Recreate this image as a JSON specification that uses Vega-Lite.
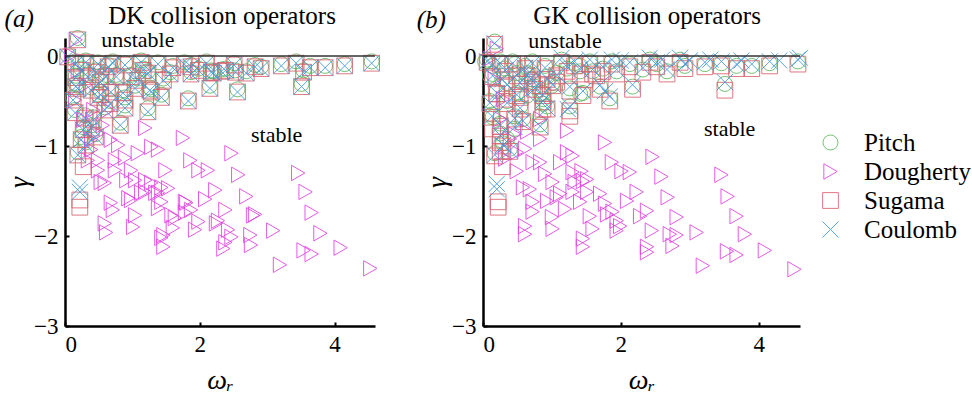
{
"$schema": "https://vega.github.io/schema/vega-lite/v6.json",
"padding": {"left": 4, "top": 3, "right": 0, "bottom": 0},
"datasets": {
"pts": [
{"panel":"a","op":"Pitch","w":0.19,"g":0.2},{"panel":"a","op":"Pitch","w":0.04,"g":0.01},{"panel":"a","op":"Pitch","w":0.16,"g":-0.06},{"panel":"a","op":"Pitch","w":0.31,"g":-0.05},{"panel":"a","op":"Pitch","w":0.49,"g":-0.07},{"panel":"a","op":"Pitch","w":0.71,"g":-0.06},{"panel":"a","op":"Pitch","w":0.89,"g":-0.08},{"panel":"a","op":"Pitch","w":1.13,"g":-0.05},{"panel":"a","op":"Pitch","w":1.38,"g":-0.07},{"panel":"a","op":"Pitch","w":1.77,"g":-0.07},{"panel":"a","op":"Pitch","w":2.1,"g":-0.06},{"panel":"a","op":"Pitch","w":2.2,"g":-0.17},{"panel":"a","op":"Pitch","w":2.32,"g":-0.15},{"panel":"a","op":"Pitch","w":2.51,"g":-0.08},{"panel":"a","op":"Pitch","w":2.53,"g":-0.16},{"panel":"a","op":"Pitch","w":2.69,"g":-0.17},{"panel":"a","op":"Pitch","w":2.82,"g":-0.1},{"panel":"a","op":"Pitch","w":2.91,"g":-0.12},{"panel":"a","op":"Pitch","w":3.21,"g":-0.09},{"panel":"a","op":"Pitch","w":3.43,"g":-0.06},{"panel":"a","op":"Pitch","w":3.54,"g":-0.16},{"panel":"a","op":"Pitch","w":3.64,"g":-0.11},{"panel":"a","op":"Pitch","w":3.86,"g":-0.11},{"panel":"a","op":"Pitch","w":4.15,"g":-0.09},{"panel":"a","op":"Pitch","w":4.55,"g":-0.06},{"panel":"a","op":"Pitch","w":2.15,"g":-0.33},{"panel":"a","op":"Pitch","w":2.56,"g":-0.37},{"panel":"a","op":"Pitch","w":3.51,"g":-0.31},{"panel":"a","op":"Pitch","w":1.83,"g":-0.47},{"panel":"a","op":"Pitch","w":1.43,"g":-0.43},{"panel":"a","op":"Pitch","w":1.26,"g":-0.35},{"panel":"a","op":"Pitch","w":0.89,"g":-0.46},{"panel":"a","op":"Pitch","w":0.89,"g":-0.55},{"panel":"a","op":"Pitch","w":0.86,"g":-0.38},{"panel":"a","op":"Pitch","w":0.49,"g":-0.43},{"panel":"a","op":"Pitch","w":0.59,"g":-0.57},{"panel":"a","op":"Pitch","w":0.16,"g":-0.31},{"panel":"a","op":"Pitch","w":0.16,"g":-0.22},{"panel":"a","op":"Pitch","w":0.34,"g":-0.21},{"panel":"a","op":"Pitch","w":0.61,"g":-0.21},{"panel":"a","op":"Pitch","w":0.76,"g":-0.21},{"panel":"a","op":"Pitch","w":0.98,"g":-0.21},{"panel":"a","op":"Pitch","w":1.23,"g":-0.17},{"panel":"a","op":"Pitch","w":1.56,"g":-0.18},{"panel":"a","op":"Pitch","w":1.87,"g":-0.18},{"panel":"a","op":"Pitch","w":2.17,"g":-0.16},{"panel":"a","op":"Pitch","w":2.38,"g":-0.14},{"panel":"a","op":"Pitch","w":1.87,"g":-0.1},{"panel":"a","op":"Pitch","w":0.19,"g":-0.33},{"panel":"a","op":"Pitch","w":0.39,"g":-0.35},{"panel":"a","op":"Pitch","w":0.53,"g":-0.4},{"panel":"a","op":"Pitch","w":0.68,"g":-0.37},{"panel":"a","op":"Pitch","w":1.04,"g":-0.33},{"panel":"a","op":"Pitch","w":1.28,"g":-0.37},{"panel":"a","op":"Pitch","w":1.23,"g":-0.58},{"panel":"a","op":"Pitch","w":0.15,"g":-0.6},{"panel":"a","op":"Pitch","w":0.3,"g":-0.66},{"panel":"a","op":"Pitch","w":0.42,"g":-0.68},{"panel":"a","op":"Pitch","w":0.39,"g":-0.77},{"panel":"a","op":"Pitch","w":0.27,"g":-0.79},{"panel":"a","op":"Pitch","w":0.45,"g":-0.87},{"panel":"a","op":"Pitch","w":0.24,"g":-0.9},{"panel":"a","op":"Pitch","w":0.31,"g":-0.96},{"panel":"a","op":"Pitch","w":0.19,"g":-1.07},{"panel":"a","op":"Pitch","w":0.82,"g":-0.74},{"panel":"a","op":"Pitch","w":0.64,"g":-0.1},{"panel":"a","op":"Pitch","w":1.6,"g":-0.11},{"panel":"a","op":"Pitch","w":1.98,"g":-0.14},{"panel":"a","op":"Pitch","w":1.16,"g":-0.14},{"panel":"a","op":"Pitch","w":0.46,"g":-0.16},{"panel":"a","op":"Pitch","w":0.24,"g":-0.14},{"panel":"a","op":"Pitch","w":1.46,"g":-0.25},{"panel":"a","op":"Pitch","w":1.08,"g":-0.25},{"panel":"a","op":"Pitch","w":0.52,"g":-0.27},{"panel":"a","op":"Pitch","w":0.67,"g":-0.5},{"panel":"a","op":"Pitch","w":0.12,"g":-0.46},
{"panel":"a","op":"Dougherty","w":0.16,"g":0.18},{"panel":"a","op":"Dougherty","w":0.09,"g":0.01},{"panel":"a","op":"Dougherty","w":0.15,"g":-0.49},{"panel":"a","op":"Dougherty","w":0.64,"g":-0.6},{"panel":"a","op":"Dougherty","w":0.49,"g":-0.86},{"panel":"a","op":"Dougherty","w":0.68,"g":-0.93},{"panel":"a","op":"Dougherty","w":0.39,"g":-1.04},{"panel":"a","op":"Dougherty","w":1.19,"g":-0.8},{"panel":"a","op":"Dougherty","w":1.75,"g":-0.91},{"panel":"a","op":"Dougherty","w":1.28,"g":-1.01},{"panel":"a","op":"Dougherty","w":1.38,"g":-1.04},{"panel":"a","op":"Dougherty","w":2.47,"g":-1.08},{"panel":"a","op":"Dougherty","w":1.98,"g":-1.27},{"panel":"a","op":"Dougherty","w":3.46,"g":-1.3},{"panel":"a","op":"Dougherty","w":3.57,"g":-1.51},{"panel":"a","op":"Dougherty","w":3.66,"g":-1.74},{"panel":"a","op":"Dougherty","w":3.79,"g":-1.97},{"panel":"a","op":"Dougherty","w":4.09,"g":-2.13},{"panel":"a","op":"Dougherty","w":4.53,"g":-2.36},{"panel":"a","op":"Dougherty","w":3.19,"g":-2.32},{"panel":"a","op":"Dougherty","w":3.54,"g":-2.16},{"panel":"a","op":"Dougherty","w":3.66,"g":-2.2},{"panel":"a","op":"Dougherty","w":3.09,"g":-1.94},{"panel":"a","op":"Dougherty","w":2.82,"g":-1.76},{"panel":"a","op":"Dougherty","w":2.69,"g":-1.56},{"panel":"a","op":"Dougherty","w":1.86,"g":-1.16},{"panel":"a","op":"Dougherty","w":2.12,"g":-1.27},{"panel":"a","op":"Dougherty","w":2.57,"g":-1.32},{"panel":"a","op":"Dougherty","w":2.23,"g":-1.49},{"panel":"a","op":"Dougherty","w":2.08,"g":-1.59},{"panel":"a","op":"Dougherty","w":2.38,"g":-1.71},{"panel":"a","op":"Dougherty","w":2.27,"g":-1.83},{"panel":"a","op":"Dougherty","w":1.98,"g":-1.84},{"panel":"a","op":"Dougherty","w":1.93,"g":-1.93},{"panel":"a","op":"Dougherty","w":2.42,"g":-1.93},{"panel":"a","op":"Dougherty","w":2.38,"g":-2.07},{"panel":"a","op":"Dougherty","w":2.35,"g":-2.14},{"panel":"a","op":"Dougherty","w":2.75,"g":-1.99},{"panel":"a","op":"Dougherty","w":2.76,"g":-2.1},{"panel":"a","op":"Dougherty","w":1.46,"g":-1.99},{"panel":"a","op":"Dougherty","w":1.46,"g":-2.12},{"panel":"a","op":"Dougherty","w":1.6,"g":-1.91},{"panel":"a","op":"Dougherty","w":1.78,"g":-1.74},{"panel":"a","op":"Dougherty","w":1.78,"g":-1.62},{"panel":"a","op":"Dougherty","w":1.58,"g":-1.77},{"panel":"a","op":"Dougherty","w":1.43,"g":-1.62},{"panel":"a","op":"Dougherty","w":1.53,"g":-1.47},{"panel":"a","op":"Dougherty","w":1.38,"g":-1.52},{"panel":"a","op":"Dougherty","w":1.19,"g":-1.51},{"panel":"a","op":"Dougherty","w":0.98,"g":-1.6},{"panel":"a","op":"Dougherty","w":1.04,"g":-1.77},{"panel":"a","op":"Dougherty","w":1.01,"g":-1.9},{"panel":"a","op":"Dougherty","w":0.59,"g":-1.86},{"panel":"a","op":"Dougherty","w":0.61,"g":-1.96},{"panel":"a","op":"Dougherty","w":0.71,"g":-1.71},{"panel":"a","op":"Dougherty","w":0.91,"g":-1.38},{"panel":"a","op":"Dougherty","w":0.98,"g":-1.27},{"panel":"a","op":"Dougherty","w":0.59,"g":-1.41},{"panel":"a","op":"Dougherty","w":0.49,"g":-1.27},{"panel":"a","op":"Dougherty","w":0.49,"g":-1.16},{"panel":"a","op":"Dougherty","w":0.74,"g":-1.16},{"panel":"a","op":"Dougherty","w":1.08,"g":-1.08},{"panel":"a","op":"Dougherty","w":1.49,"g":-1.27},{"panel":"a","op":"Dougherty","w":1.19,"g":-1.38},{"panel":"a","op":"Dougherty","w":1.28,"g":-1.41},{"panel":"a","op":"Dougherty","w":1.87,"g":-1.71},{"panel":"a","op":"Dougherty","w":0.89,"g":-1.13},{"panel":"a","op":"Dougherty","w":0.74,"g":-1.27},{"panel":"a","op":"Dougherty","w":0.53,"g":-1.4},{"panel":"a","op":"Dougherty","w":1.04,"g":-1.38},{"panel":"a","op":"Dougherty","w":1.13,"g":-1.52},{"panel":"a","op":"Dougherty","w":1.43,"g":-1.46},{"panel":"a","op":"Dougherty","w":1.34,"g":-1.52},{"panel":"a","op":"Dougherty","w":0.94,"g":-1.58},{"panel":"a","op":"Dougherty","w":0.68,"g":-1.63},{"panel":"a","op":"Dougherty","w":1.38,"g":-1.69},{"panel":"a","op":"Dougherty","w":1.63,"g":-1.8},{"panel":"a","op":"Dougherty","w":1.8,"g":-1.63},{"panel":"a","op":"Dougherty","w":2.24,"g":-1.86},{"panel":"a","op":"Dougherty","w":1.43,"g":-2.02},{"panel":"a","op":"Dougherty","w":2.47,"g":-2.01},{"panel":"a","op":"Dougherty","w":2.79,"g":-1.77},{"panel":"a","op":"Dougherty","w":0.34,"g":-1.16},{"panel":"a","op":"Dougherty","w":0.39,"g":-0.93},{"panel":"a","op":"Dougherty","w":0.27,"g":-0.71},{"panel":"a","op":"Dougherty","w":0.31,"g":-0.32},{"panel":"a","op":"Dougherty","w":0.19,"g":-0.16},{"panel":"a","op":"Dougherty","w":0.42,"g":-0.6},{"panel":"a","op":"Dougherty","w":0.56,"g":-0.77},{"panel":"a","op":"Dougherty","w":0.79,"g":-0.99},
{"panel":"a","op":"Sugama","w":0.19,"g":0.18},{"panel":"a","op":"Sugama","w":0.04,"g":-0.01},{"panel":"a","op":"Sugama","w":0.16,"g":-0.08},{"panel":"a","op":"Sugama","w":0.31,"g":-0.07},{"panel":"a","op":"Sugama","w":0.49,"g":-0.09},{"panel":"a","op":"Sugama","w":0.71,"g":-0.08},{"panel":"a","op":"Sugama","w":0.89,"g":-0.1},{"panel":"a","op":"Sugama","w":1.13,"g":-0.07},{"panel":"a","op":"Sugama","w":1.38,"g":-0.09},{"panel":"a","op":"Sugama","w":1.77,"g":-0.09},{"panel":"a","op":"Sugama","w":2.1,"g":-0.08},{"panel":"a","op":"Sugama","w":2.2,"g":-0.19},{"panel":"a","op":"Sugama","w":2.32,"g":-0.17},{"panel":"a","op":"Sugama","w":2.51,"g":-0.1},{"panel":"a","op":"Sugama","w":2.53,"g":-0.18},{"panel":"a","op":"Sugama","w":2.69,"g":-0.19},{"panel":"a","op":"Sugama","w":2.82,"g":-0.12},{"panel":"a","op":"Sugama","w":2.91,"g":-0.14},{"panel":"a","op":"Sugama","w":3.21,"g":-0.11},{"panel":"a","op":"Sugama","w":3.43,"g":-0.08},{"panel":"a","op":"Sugama","w":3.54,"g":-0.18},{"panel":"a","op":"Sugama","w":3.64,"g":-0.13},{"panel":"a","op":"Sugama","w":3.86,"g":-0.13},{"panel":"a","op":"Sugama","w":4.15,"g":-0.11},{"panel":"a","op":"Sugama","w":4.55,"g":-0.08},{"panel":"a","op":"Sugama","w":2.15,"g":-0.36},{"panel":"a","op":"Sugama","w":2.56,"g":-0.4},{"panel":"a","op":"Sugama","w":3.51,"g":-0.34},{"panel":"a","op":"Sugama","w":1.83,"g":-0.5},{"panel":"a","op":"Sugama","w":1.43,"g":-0.46},{"panel":"a","op":"Sugama","w":1.26,"g":-0.38},{"panel":"a","op":"Sugama","w":0.89,"g":-0.49},{"panel":"a","op":"Sugama","w":0.89,"g":-0.58},{"panel":"a","op":"Sugama","w":0.86,"g":-0.41},{"panel":"a","op":"Sugama","w":0.49,"g":-0.46},{"panel":"a","op":"Sugama","w":0.59,"g":-0.6},{"panel":"a","op":"Sugama","w":0.16,"g":-0.34},{"panel":"a","op":"Sugama","w":0.16,"g":-0.24},{"panel":"a","op":"Sugama","w":0.34,"g":-0.23},{"panel":"a","op":"Sugama","w":0.61,"g":-0.23},{"panel":"a","op":"Sugama","w":0.76,"g":-0.23},{"panel":"a","op":"Sugama","w":0.98,"g":-0.23},{"panel":"a","op":"Sugama","w":1.23,"g":-0.19},{"panel":"a","op":"Sugama","w":1.56,"g":-0.2},{"panel":"a","op":"Sugama","w":1.87,"g":-0.2},{"panel":"a","op":"Sugama","w":2.17,"g":-0.18},{"panel":"a","op":"Sugama","w":2.38,"g":-0.16},{"panel":"a","op":"Sugama","w":1.87,"g":-0.12},{"panel":"a","op":"Sugama","w":0.19,"g":-0.36},{"panel":"a","op":"Sugama","w":0.39,"g":-0.38},{"panel":"a","op":"Sugama","w":0.53,"g":-0.43},{"panel":"a","op":"Sugama","w":0.68,"g":-0.4},{"panel":"a","op":"Sugama","w":1.04,"g":-0.36},{"panel":"a","op":"Sugama","w":1.28,"g":-0.4},{"panel":"a","op":"Sugama","w":1.23,"g":-0.62},{"panel":"a","op":"Sugama","w":0.15,"g":-0.63},{"panel":"a","op":"Sugama","w":0.3,"g":-0.69},{"panel":"a","op":"Sugama","w":0.42,"g":-0.71},{"panel":"a","op":"Sugama","w":0.39,"g":-0.8},{"panel":"a","op":"Sugama","w":0.27,"g":-0.82},{"panel":"a","op":"Sugama","w":0.45,"g":-0.9},{"panel":"a","op":"Sugama","w":0.24,"g":-0.93},{"panel":"a","op":"Sugama","w":0.31,"g":-0.99},{"panel":"a","op":"Sugama","w":0.19,"g":-1.1},{"panel":"a","op":"Sugama","w":0.82,"g":-0.77},{"panel":"a","op":"Sugama","w":0.64,"g":-0.12},{"panel":"a","op":"Sugama","w":1.6,"g":-0.13},{"panel":"a","op":"Sugama","w":1.98,"g":-0.16},{"panel":"a","op":"Sugama","w":1.16,"g":-0.16},{"panel":"a","op":"Sugama","w":0.46,"g":-0.18},{"panel":"a","op":"Sugama","w":0.24,"g":-0.16},{"panel":"a","op":"Sugama","w":1.46,"g":-0.27},{"panel":"a","op":"Sugama","w":1.08,"g":-0.27},{"panel":"a","op":"Sugama","w":0.52,"g":-0.29},{"panel":"a","op":"Sugama","w":0.67,"g":-0.53},{"panel":"a","op":"Sugama","w":0.12,"g":-0.49},{"panel":"a","op":"Sugama","w":0.27,"g":-1.23},{"panel":"a","op":"Sugama","w":0.22,"g":-1.6},{"panel":"a","op":"Sugama","w":0.22,"g":-1.68},
{"panel":"a","op":"Coulomb","w":0.19,"g":0.18},{"panel":"a","op":"Coulomb","w":0.04,"g":-0.01},{"panel":"a","op":"Coulomb","w":0.16,"g":-0.08},{"panel":"a","op":"Coulomb","w":0.31,"g":-0.07},{"panel":"a","op":"Coulomb","w":0.49,"g":-0.09},{"panel":"a","op":"Coulomb","w":0.71,"g":-0.08},{"panel":"a","op":"Coulomb","w":0.89,"g":-0.1},{"panel":"a","op":"Coulomb","w":1.13,"g":-0.07},{"panel":"a","op":"Coulomb","w":1.38,"g":-0.09},{"panel":"a","op":"Coulomb","w":1.77,"g":-0.09},{"panel":"a","op":"Coulomb","w":2.1,"g":-0.08},{"panel":"a","op":"Coulomb","w":2.2,"g":-0.19},{"panel":"a","op":"Coulomb","w":2.32,"g":-0.17},{"panel":"a","op":"Coulomb","w":2.51,"g":-0.1},{"panel":"a","op":"Coulomb","w":2.53,"g":-0.18},{"panel":"a","op":"Coulomb","w":2.69,"g":-0.19},{"panel":"a","op":"Coulomb","w":2.82,"g":-0.12},{"panel":"a","op":"Coulomb","w":2.91,"g":-0.14},{"panel":"a","op":"Coulomb","w":3.21,"g":-0.11},{"panel":"a","op":"Coulomb","w":3.43,"g":-0.08},{"panel":"a","op":"Coulomb","w":3.54,"g":-0.18},{"panel":"a","op":"Coulomb","w":3.64,"g":-0.13},{"panel":"a","op":"Coulomb","w":3.86,"g":-0.13},{"panel":"a","op":"Coulomb","w":4.15,"g":-0.11},{"panel":"a","op":"Coulomb","w":4.55,"g":-0.08},{"panel":"a","op":"Coulomb","w":2.15,"g":-0.36},{"panel":"a","op":"Coulomb","w":2.56,"g":-0.4},{"panel":"a","op":"Coulomb","w":3.51,"g":-0.34},{"panel":"a","op":"Coulomb","w":1.83,"g":-0.5},{"panel":"a","op":"Coulomb","w":1.43,"g":-0.46},{"panel":"a","op":"Coulomb","w":1.26,"g":-0.38},{"panel":"a","op":"Coulomb","w":0.89,"g":-0.49},{"panel":"a","op":"Coulomb","w":0.89,"g":-0.58},{"panel":"a","op":"Coulomb","w":0.86,"g":-0.41},{"panel":"a","op":"Coulomb","w":0.49,"g":-0.46},{"panel":"a","op":"Coulomb","w":0.59,"g":-0.6},{"panel":"a","op":"Coulomb","w":0.16,"g":-0.34},{"panel":"a","op":"Coulomb","w":0.16,"g":-0.24},{"panel":"a","op":"Coulomb","w":0.34,"g":-0.23},{"panel":"a","op":"Coulomb","w":0.61,"g":-0.23},{"panel":"a","op":"Coulomb","w":0.76,"g":-0.23},{"panel":"a","op":"Coulomb","w":0.98,"g":-0.23},{"panel":"a","op":"Coulomb","w":1.23,"g":-0.19},{"panel":"a","op":"Coulomb","w":1.56,"g":-0.2},{"panel":"a","op":"Coulomb","w":1.87,"g":-0.2},{"panel":"a","op":"Coulomb","w":2.17,"g":-0.18},{"panel":"a","op":"Coulomb","w":2.38,"g":-0.16},{"panel":"a","op":"Coulomb","w":1.87,"g":-0.12},{"panel":"a","op":"Coulomb","w":0.19,"g":-0.36},{"panel":"a","op":"Coulomb","w":0.39,"g":-0.38},{"panel":"a","op":"Coulomb","w":0.53,"g":-0.43},{"panel":"a","op":"Coulomb","w":0.68,"g":-0.4},{"panel":"a","op":"Coulomb","w":1.04,"g":-0.36},{"panel":"a","op":"Coulomb","w":1.28,"g":-0.4},{"panel":"a","op":"Coulomb","w":1.23,"g":-0.62},{"panel":"a","op":"Coulomb","w":0.15,"g":-0.63},{"panel":"a","op":"Coulomb","w":0.3,"g":-0.69},{"panel":"a","op":"Coulomb","w":0.42,"g":-0.71},{"panel":"a","op":"Coulomb","w":0.39,"g":-0.8},{"panel":"a","op":"Coulomb","w":0.27,"g":-0.82},{"panel":"a","op":"Coulomb","w":0.45,"g":-0.9},{"panel":"a","op":"Coulomb","w":0.24,"g":-0.93},{"panel":"a","op":"Coulomb","w":0.31,"g":-0.99},{"panel":"a","op":"Coulomb","w":0.19,"g":-1.1},{"panel":"a","op":"Coulomb","w":0.82,"g":-0.77},{"panel":"a","op":"Coulomb","w":0.64,"g":-0.12},{"panel":"a","op":"Coulomb","w":1.6,"g":-0.13},{"panel":"a","op":"Coulomb","w":1.98,"g":-0.16},{"panel":"a","op":"Coulomb","w":1.16,"g":-0.16},{"panel":"a","op":"Coulomb","w":0.46,"g":-0.18},{"panel":"a","op":"Coulomb","w":0.24,"g":-0.16},{"panel":"a","op":"Coulomb","w":1.46,"g":-0.27},{"panel":"a","op":"Coulomb","w":1.08,"g":-0.27},{"panel":"a","op":"Coulomb","w":0.52,"g":-0.29},{"panel":"a","op":"Coulomb","w":0.67,"g":-0.53},{"panel":"a","op":"Coulomb","w":0.12,"g":-0.49},{"panel":"a","op":"Coulomb","w":0.22,"g":-1.46},{"panel":"a","op":"Coulomb","w":0.22,"g":-1.51},
{"panel":"b","op":"Pitch","w":0.17,"g":0.16},{"panel":"b","op":"Pitch","w":0.06,"g":-0.04},{"panel":"b","op":"Pitch","w":0.25,"g":-0.06},{"panel":"b","op":"Pitch","w":0.43,"g":-0.06},{"panel":"b","op":"Pitch","w":0.72,"g":-0.06},{"panel":"b","op":"Pitch","w":1.14,"g":-0.04},{"panel":"b","op":"Pitch","w":1.22,"g":-0.14},{"panel":"b","op":"Pitch","w":1.41,"g":-0.17},{"panel":"b","op":"Pitch","w":1.59,"g":-0.17},{"panel":"b","op":"Pitch","w":1.74,"g":-0.14},{"panel":"b","op":"Pitch","w":1.94,"g":-0.17},{"panel":"b","op":"Pitch","w":2.13,"g":-0.09},{"panel":"b","op":"Pitch","w":2.32,"g":-0.15},{"panel":"b","op":"Pitch","w":2.52,"g":-0.09},{"panel":"b","op":"Pitch","w":2.67,"g":-0.17},{"panel":"b","op":"Pitch","w":2.93,"g":-0.11},{"panel":"b","op":"Pitch","w":3.22,"g":-0.09},{"panel":"b","op":"Pitch","w":3.46,"g":-0.08},{"panel":"b","op":"Pitch","w":3.68,"g":-0.11},{"panel":"b","op":"Pitch","w":3.9,"g":-0.11},{"panel":"b","op":"Pitch","w":4.16,"g":-0.08},{"panel":"b","op":"Pitch","w":4.57,"g":-0.06},{"panel":"b","op":"Pitch","w":3.51,"g":-0.31},{"panel":"b","op":"Pitch","w":2.17,"g":-0.34},{"panel":"b","op":"Pitch","w":1.84,"g":-0.47},{"panel":"b","op":"Pitch","w":1.45,"g":-0.41},{"panel":"b","op":"Pitch","w":1.26,"g":-0.36},{"panel":"b","op":"Pitch","w":1.26,"g":-0.56},{"panel":"b","op":"Pitch","w":0.87,"g":-0.41},{"panel":"b","op":"Pitch","w":0.87,"g":-0.48},{"panel":"b","op":"Pitch","w":0.93,"g":-0.56},{"panel":"b","op":"Pitch","w":0.54,"g":-0.56},{"panel":"b","op":"Pitch","w":0.49,"g":-0.41},{"panel":"b","op":"Pitch","w":0.14,"g":-0.2},{"panel":"b","op":"Pitch","w":0.2,"g":-0.39},{"panel":"b","op":"Pitch","w":0.35,"g":-0.3},{"panel":"b","op":"Pitch","w":0.13,"g":-0.65},{"panel":"b","op":"Pitch","w":0.25,"g":-0.75},{"panel":"b","op":"Pitch","w":0.46,"g":-0.67},{"panel":"b","op":"Pitch","w":0.58,"g":-0.7},{"panel":"b","op":"Pitch","w":0.83,"g":-0.76},{"panel":"b","op":"Pitch","w":0.25,"g":-0.86},{"panel":"b","op":"Pitch","w":0.29,"g":-0.97},{"panel":"b","op":"Pitch","w":0.17,"g":-1.08},{"panel":"b","op":"Pitch","w":0.39,"g":-1.03},{"panel":"b","op":"Pitch","w":0.64,"g":-0.19},{"panel":"b","op":"Pitch","w":0.49,"g":-0.19},{"panel":"b","op":"Pitch","w":0.72,"g":-0.26},{"panel":"b","op":"Pitch","w":1.01,"g":-0.3},{"panel":"b","op":"Pitch","w":1.7,"g":-0.34},{"panel":"b","op":"Pitch","w":1.07,"g":-0.19},{"panel":"b","op":"Pitch","w":0.93,"g":-0.23},{"panel":"b","op":"Pitch","w":0.61,"g":-0.11},{"panel":"b","op":"Pitch","w":0.9,"g":-0.11},{"panel":"b","op":"Pitch","w":0.32,"g":-0.14},{"panel":"b","op":"Pitch","w":1.33,"g":-0.08},{"panel":"b","op":"Pitch","w":1.55,"g":-0.06},{"panel":"b","op":"Pitch","w":1.87,"g":-0.06},{"panel":"b","op":"Pitch","w":2.42,"g":-0.04},{"panel":"b","op":"Pitch","w":2.86,"g":-0.04},{"panel":"b","op":"Pitch","w":0.54,"g":-0.28},{"panel":"b","op":"Pitch","w":0.75,"g":-0.34},{"panel":"b","op":"Pitch","w":0.1,"g":-0.5},{"panel":"b","op":"Pitch","w":0.35,"g":-0.5},{"panel":"b","op":"Pitch","w":0.03,"g":-0.06},{"panel":"b","op":"Pitch","w":0.14,"g":-0.11},{"panel":"b","op":"Pitch","w":0.46,"g":-0.09},{"panel":"b","op":"Pitch","w":1.41,"g":-0.11},{"panel":"b","op":"Pitch","w":0.1,"g":-0.22},{"panel":"b","op":"Pitch","w":0.28,"g":-0.26},{"panel":"b","op":"Pitch","w":0.71,"g":-0.26},{"panel":"b","op":"Pitch","w":1.0,"g":-0.33},{"panel":"b","op":"Pitch","w":0.83,"g":-0.42},{"panel":"b","op":"Pitch","w":0.64,"g":-0.44},{"panel":"b","op":"Pitch","w":0.87,"g":-0.53},{"panel":"b","op":"Pitch","w":0.83,"g":-0.67},{"panel":"b","op":"Pitch","w":1.41,"g":-0.42},{"panel":"b","op":"Pitch","w":0.14,"g":-0.68},{"panel":"b","op":"Pitch","w":0.35,"g":-0.92},{"panel":"b","op":"Pitch","w":0.46,"g":-0.81},
{"panel":"b","op":"Dougherty","w":0.2,"g":0.08},{"panel":"b","op":"Dougherty","w":0.1,"g":-0.03},{"panel":"b","op":"Dougherty","w":2.46,"g":-1.12},{"panel":"b","op":"Dougherty","w":1.87,"g":-1.18},{"panel":"b","op":"Dougherty","w":2.13,"g":-1.29},{"panel":"b","op":"Dougherty","w":2.59,"g":-1.34},{"panel":"b","op":"Dougherty","w":3.46,"g":-1.32},{"panel":"b","op":"Dougherty","w":3.55,"g":-1.56},{"panel":"b","op":"Dougherty","w":3.68,"g":-1.78},{"panel":"b","op":"Dougherty","w":3.8,"g":-1.98},{"panel":"b","op":"Dougherty","w":4.09,"g":-2.16},{"panel":"b","op":"Dougherty","w":4.52,"g":-2.37},{"panel":"b","op":"Dougherty","w":3.19,"g":-2.33},{"panel":"b","op":"Dougherty","w":3.54,"g":-2.17},{"panel":"b","op":"Dougherty","w":3.68,"g":-2.21},{"panel":"b","op":"Dougherty","w":3.1,"g":-1.96},{"panel":"b","op":"Dougherty","w":2.81,"g":-1.79},{"panel":"b","op":"Dougherty","w":2.68,"g":-1.57},{"panel":"b","op":"Dougherty","w":2.23,"g":-1.51},{"panel":"b","op":"Dougherty","w":2.09,"g":-1.61},{"panel":"b","op":"Dougherty","w":2.38,"g":-1.72},{"panel":"b","op":"Dougherty","w":2.28,"g":-1.78},{"panel":"b","op":"Dougherty","w":1.94,"g":-1.83},{"panel":"b","op":"Dougherty","w":1.94,"g":-1.94},{"panel":"b","op":"Dougherty","w":2.45,"g":-1.94},{"panel":"b","op":"Dougherty","w":2.38,"g":-2.12},{"panel":"b","op":"Dougherty","w":2.38,"g":-2.18},{"panel":"b","op":"Dougherty","w":2.71,"g":-1.98},{"panel":"b","op":"Dougherty","w":2.75,"g":-2.11},{"panel":"b","op":"Dougherty","w":2.81,"g":-1.99},{"panel":"b","op":"Dougherty","w":1.45,"g":-2.03},{"panel":"b","op":"Dougherty","w":1.45,"g":-2.12},{"panel":"b","op":"Dougherty","w":1.59,"g":-1.92},{"panel":"b","op":"Dougherty","w":1.8,"g":-1.76},{"panel":"b","op":"Dougherty","w":1.77,"g":-1.64},{"panel":"b","op":"Dougherty","w":1.55,"g":-1.78},{"panel":"b","op":"Dougherty","w":1.41,"g":-1.62},{"panel":"b","op":"Dougherty","w":1.51,"g":-1.51},{"panel":"b","op":"Dougherty","w":1.3,"g":-1.51},{"panel":"b","op":"Dougherty","w":1.07,"g":-1.57},{"panel":"b","op":"Dougherty","w":0.93,"g":-1.61},{"panel":"b","op":"Dougherty","w":1.0,"g":-1.79},{"panel":"b","op":"Dougherty","w":1.01,"g":-1.92},{"panel":"b","op":"Dougherty","w":0.61,"g":-1.89},{"panel":"b","op":"Dougherty","w":0.61,"g":-1.98},{"panel":"b","op":"Dougherty","w":0.72,"g":-1.73},{"panel":"b","op":"Dougherty","w":0.72,"g":-1.62},{"panel":"b","op":"Dougherty","w":1.01,"g":-1.4},{"panel":"b","op":"Dougherty","w":1.12,"g":-1.18},{"panel":"b","op":"Dougherty","w":0.58,"g":-1.46},{"panel":"b","op":"Dougherty","w":0.49,"g":-1.28},{"panel":"b","op":"Dougherty","w":0.83,"g":-1.18},{"panel":"b","op":"Dougherty","w":1.22,"g":-1.07},{"panel":"b","op":"Dougherty","w":1.3,"g":-1.29},{"panel":"b","op":"Dougherty","w":1.43,"g":-1.28},{"panel":"b","op":"Dougherty","w":1.33,"g":-1.4},{"panel":"b","op":"Dougherty","w":1.51,"g":-1.37},{"panel":"b","op":"Dougherty","w":1.88,"g":-1.73},{"panel":"b","op":"Dougherty","w":1.99,"g":-1.89},{"panel":"b","op":"Dougherty","w":1.22,"g":-0.83},{"panel":"b","op":"Dougherty","w":1.77,"g":-0.96},{"panel":"b","op":"Dougherty","w":1.3,"g":-1.11},{"panel":"b","op":"Dougherty","w":2.01,"g":-1.28},{"panel":"b","op":"Dougherty","w":0.83,"g":-0.92},{"panel":"b","op":"Dougherty","w":0.64,"g":-0.84},{"panel":"b","op":"Dougherty","w":0.49,"g":-1.07},{"panel":"b","op":"Dougherty","w":0.72,"g":-1.18},{"panel":"b","op":"Dougherty","w":1.45,"g":-1.39},{"panel":"b","op":"Dougherty","w":0.32,"g":-1.14},{"panel":"b","op":"Dougherty","w":0.39,"g":-0.92},{"panel":"b","op":"Dougherty","w":0.25,"g":-0.7},{"panel":"b","op":"Dougherty","w":0.29,"g":-0.48},{"panel":"b","op":"Dougherty","w":0.17,"g":-0.26},{"panel":"b","op":"Dougherty","w":0.46,"g":-0.87},{"panel":"b","op":"Dougherty","w":0.61,"g":-1.03},{"panel":"b","op":"Dougherty","w":0.9,"g":-1.31},{"panel":"b","op":"Dougherty","w":1.12,"g":-1.53},{"panel":"b","op":"Dougherty","w":1.19,"g":-1.7},{"panel":"b","op":"Dougherty","w":1.7,"g":-1.53},{"panel":"b","op":"Dougherty","w":0.83,"g":-0.7},{"panel":"b","op":"Dougherty","w":0.68,"g":-1.48},
{"panel":"b","op":"Sugama","w":0.17,"g":0.13},{"panel":"b","op":"Sugama","w":0.06,"g":-0.07},{"panel":"b","op":"Sugama","w":0.25,"g":-0.09},{"panel":"b","op":"Sugama","w":0.43,"g":-0.09},{"panel":"b","op":"Sugama","w":0.72,"g":-0.09},{"panel":"b","op":"Sugama","w":1.14,"g":-0.07},{"panel":"b","op":"Sugama","w":1.22,"g":-0.17},{"panel":"b","op":"Sugama","w":1.41,"g":-0.2},{"panel":"b","op":"Sugama","w":1.59,"g":-0.2},{"panel":"b","op":"Sugama","w":1.74,"g":-0.17},{"panel":"b","op":"Sugama","w":1.94,"g":-0.2},{"panel":"b","op":"Sugama","w":2.13,"g":-0.12},{"panel":"b","op":"Sugama","w":2.32,"g":-0.18},{"panel":"b","op":"Sugama","w":2.52,"g":-0.12},{"panel":"b","op":"Sugama","w":2.67,"g":-0.2},{"panel":"b","op":"Sugama","w":2.93,"g":-0.14},{"panel":"b","op":"Sugama","w":3.22,"g":-0.12},{"panel":"b","op":"Sugama","w":3.46,"g":-0.11},{"panel":"b","op":"Sugama","w":3.68,"g":-0.14},{"panel":"b","op":"Sugama","w":3.9,"g":-0.14},{"panel":"b","op":"Sugama","w":4.16,"g":-0.11},{"panel":"b","op":"Sugama","w":4.57,"g":-0.09},{"panel":"b","op":"Sugama","w":3.51,"g":-0.38},{"panel":"b","op":"Sugama","w":2.17,"g":-0.37},{"panel":"b","op":"Sugama","w":1.84,"g":-0.5},{"panel":"b","op":"Sugama","w":1.45,"g":-0.44},{"panel":"b","op":"Sugama","w":1.26,"g":-0.39},{"panel":"b","op":"Sugama","w":1.26,"g":-0.61},{"panel":"b","op":"Sugama","w":0.87,"g":-0.44},{"panel":"b","op":"Sugama","w":0.87,"g":-0.51},{"panel":"b","op":"Sugama","w":0.93,"g":-0.59},{"panel":"b","op":"Sugama","w":0.54,"g":-0.59},{"panel":"b","op":"Sugama","w":0.49,"g":-0.44},{"panel":"b","op":"Sugama","w":0.14,"g":-0.23},{"panel":"b","op":"Sugama","w":0.2,"g":-0.42},{"panel":"b","op":"Sugama","w":0.35,"g":-0.33},{"panel":"b","op":"Sugama","w":0.13,"g":-0.68},{"panel":"b","op":"Sugama","w":0.25,"g":-0.78},{"panel":"b","op":"Sugama","w":0.46,"g":-0.7},{"panel":"b","op":"Sugama","w":0.58,"g":-0.73},{"panel":"b","op":"Sugama","w":0.83,"g":-0.79},{"panel":"b","op":"Sugama","w":0.25,"g":-0.89},{"panel":"b","op":"Sugama","w":0.29,"g":-1.0},{"panel":"b","op":"Sugama","w":0.17,"g":-1.11},{"panel":"b","op":"Sugama","w":0.39,"g":-1.06},{"panel":"b","op":"Sugama","w":0.64,"g":-0.22},{"panel":"b","op":"Sugama","w":0.49,"g":-0.22},{"panel":"b","op":"Sugama","w":0.72,"g":-0.29},{"panel":"b","op":"Sugama","w":1.01,"g":-0.33},{"panel":"b","op":"Sugama","w":1.7,"g":-0.37},{"panel":"b","op":"Sugama","w":1.07,"g":-0.22},{"panel":"b","op":"Sugama","w":0.93,"g":-0.26},{"panel":"b","op":"Sugama","w":0.61,"g":-0.14},{"panel":"b","op":"Sugama","w":0.9,"g":-0.14},{"panel":"b","op":"Sugama","w":0.32,"g":-0.17},{"panel":"b","op":"Sugama","w":1.33,"g":-0.11},{"panel":"b","op":"Sugama","w":1.55,"g":-0.09},{"panel":"b","op":"Sugama","w":1.87,"g":-0.09},{"panel":"b","op":"Sugama","w":2.42,"g":-0.07},{"panel":"b","op":"Sugama","w":2.86,"g":-0.07},{"panel":"b","op":"Sugama","w":0.54,"g":-0.31},{"panel":"b","op":"Sugama","w":0.75,"g":-0.37},{"panel":"b","op":"Sugama","w":0.1,"g":-0.53},{"panel":"b","op":"Sugama","w":0.35,"g":-0.53},{"panel":"b","op":"Sugama","w":0.28,"g":-1.23},{"panel":"b","op":"Sugama","w":0.22,"g":-1.62},{"panel":"b","op":"Sugama","w":0.22,"g":-1.68},{"panel":"b","op":"Sugama","w":0.2,"g":-0.42},{"panel":"b","op":"Sugama","w":0.35,"g":-0.48},{"panel":"b","op":"Sugama","w":0.54,"g":-0.46},{"panel":"b","op":"Sugama","w":0.83,"g":-0.33},{"panel":"b","op":"Sugama","w":1.07,"g":-0.29},{"panel":"b","op":"Sugama","w":1.26,"g":-0.67},{"panel":"b","op":"Sugama","w":1.48,"g":-0.26},{"panel":"b","op":"Sugama","w":1.65,"g":-0.22},{"panel":"b","op":"Sugama","w":0.14,"g":-0.81},{"panel":"b","op":"Sugama","w":0.25,"g":-0.96},{"panel":"b","op":"Sugama","w":0.25,"g":-1.06},{"panel":"b","op":"Sugama","w":0.87,"g":-0.59},
{"panel":"b","op":"Coulomb","w":0.17,"g":0.14},{"panel":"b","op":"Coulomb","w":0.06,"g":-0.06},{"panel":"b","op":"Coulomb","w":0.25,"g":-0.08},{"panel":"b","op":"Coulomb","w":0.43,"g":-0.08},{"panel":"b","op":"Coulomb","w":0.72,"g":-0.08},{"panel":"b","op":"Coulomb","w":1.14,"g":-0.02},{"panel":"b","op":"Coulomb","w":1.22,"g":-0.12},{"panel":"b","op":"Coulomb","w":1.41,"g":-0.15},{"panel":"b","op":"Coulomb","w":1.59,"g":-0.15},{"panel":"b","op":"Coulomb","w":1.74,"g":-0.12},{"panel":"b","op":"Coulomb","w":1.94,"g":-0.15},{"panel":"b","op":"Coulomb","w":2.13,"g":-0.07},{"panel":"b","op":"Coulomb","w":2.32,"g":-0.13},{"panel":"b","op":"Coulomb","w":2.52,"g":-0.07},{"panel":"b","op":"Coulomb","w":2.67,"g":-0.15},{"panel":"b","op":"Coulomb","w":2.93,"g":-0.09},{"panel":"b","op":"Coulomb","w":3.22,"g":-0.07},{"panel":"b","op":"Coulomb","w":3.46,"g":-0.06},{"panel":"b","op":"Coulomb","w":3.68,"g":-0.09},{"panel":"b","op":"Coulomb","w":3.9,"g":-0.09},{"panel":"b","op":"Coulomb","w":4.16,"g":-0.06},{"panel":"b","op":"Coulomb","w":4.57,"g":-0.04},{"panel":"b","op":"Coulomb","w":3.51,"g":-0.29},{"panel":"b","op":"Coulomb","w":2.17,"g":-0.32},{"panel":"b","op":"Coulomb","w":1.84,"g":-0.45},{"panel":"b","op":"Coulomb","w":1.45,"g":-0.39},{"panel":"b","op":"Coulomb","w":1.26,"g":-0.34},{"panel":"b","op":"Coulomb","w":1.26,"g":-0.56},{"panel":"b","op":"Coulomb","w":0.87,"g":-0.43},{"panel":"b","op":"Coulomb","w":0.87,"g":-0.5},{"panel":"b","op":"Coulomb","w":0.93,"g":-0.58},{"panel":"b","op":"Coulomb","w":0.54,"g":-0.58},{"panel":"b","op":"Coulomb","w":0.49,"g":-0.43},{"panel":"b","op":"Coulomb","w":0.14,"g":-0.22},{"panel":"b","op":"Coulomb","w":0.2,"g":-0.41},{"panel":"b","op":"Coulomb","w":0.35,"g":-0.32},{"panel":"b","op":"Coulomb","w":0.13,"g":-0.67},{"panel":"b","op":"Coulomb","w":0.25,"g":-0.77},{"panel":"b","op":"Coulomb","w":0.46,"g":-0.69},{"panel":"b","op":"Coulomb","w":0.58,"g":-0.72},{"panel":"b","op":"Coulomb","w":0.83,"g":-0.78},{"panel":"b","op":"Coulomb","w":0.25,"g":-0.88},{"panel":"b","op":"Coulomb","w":0.29,"g":-0.99},{"panel":"b","op":"Coulomb","w":0.17,"g":-1.1},{"panel":"b","op":"Coulomb","w":0.39,"g":-1.05},{"panel":"b","op":"Coulomb","w":0.64,"g":-0.21},{"panel":"b","op":"Coulomb","w":0.49,"g":-0.21},{"panel":"b","op":"Coulomb","w":0.72,"g":-0.28},{"panel":"b","op":"Coulomb","w":1.01,"g":-0.32},{"panel":"b","op":"Coulomb","w":1.7,"g":-0.32},{"panel":"b","op":"Coulomb","w":1.07,"g":-0.21},{"panel":"b","op":"Coulomb","w":0.93,"g":-0.25},{"panel":"b","op":"Coulomb","w":0.61,"g":-0.13},{"panel":"b","op":"Coulomb","w":0.9,"g":-0.13},{"panel":"b","op":"Coulomb","w":0.32,"g":-0.16},{"panel":"b","op":"Coulomb","w":1.33,"g":-0.06},{"panel":"b","op":"Coulomb","w":1.55,"g":-0.04},{"panel":"b","op":"Coulomb","w":1.87,"g":-0.04},{"panel":"b","op":"Coulomb","w":2.42,"g":-0.02},{"panel":"b","op":"Coulomb","w":2.86,"g":-0.02},{"panel":"b","op":"Coulomb","w":0.54,"g":-0.3},{"panel":"b","op":"Coulomb","w":0.75,"g":-0.36},{"panel":"b","op":"Coulomb","w":0.1,"g":-0.52},{"panel":"b","op":"Coulomb","w":0.35,"g":-0.52},{"panel":"b","op":"Coulomb","w":1.77,"g":-0.39},{"panel":"b","op":"Coulomb","w":1.23,"g":-0.59},{"panel":"b","op":"Coulomb","w":0.2,"g":-1.42},{"panel":"b","op":"Coulomb","w":0.2,"g":-1.48},{"panel":"b","op":"Coulomb","w":3.0,"g":-0.05},{"panel":"b","op":"Coulomb","w":3.3,"g":-0.04},{"panel":"b","op":"Coulomb","w":3.75,"g":-0.05},{"panel":"b","op":"Coulomb","w":4.3,"g":-0.05},{"panel":"b","op":"Coulomb","w":4.6,"g":-0.02},{"panel":"b","op":"Coulomb","w":2.0,"g":-0.05},{"panel":"b","op":"Coulomb","w":2.6,"g":-0.04},{"panel":"b","op":"Coulomb","w":0.28,"g":-0.26},{"panel":"b","op":"Coulomb","w":0.71,"g":-0.24},{"panel":"b","op":"Coulomb","w":0.64,"g":-0.42},{"panel":"b","op":"Coulomb","w":0.14,"g":-0.1},{"panel":"b","op":"Coulomb","w":0.46,"g":-0.79}
],
"notes": [
{"panel":"a","kind":"tag","t":"(a)","w":-0.68,"g":0.41},
{"panel":"a","kind":"head","t":"DK collision operators","w":2.33,"g":0.45},
{"panel":"a","kind":"note","t":"unstable","w":1.08,"g":0.18},
{"panel":"a","kind":"note","t":"stable","w":3.14,"g":-0.88},
{"panel":"b","kind":"tag","t":"(b)","w":-0.75,"g":0.4},
{"panel":"b","kind":"head","t":"GK collision operators","w":2.38,"g":0.44},
{"panel":"b","kind":"note","t":"unstable","w":1.19,"g":0.17},
{"panel":"b","kind":"note","t":"stable","w":3.58,"g":-0.81}
]
},
"config": {
"font": "Liberation Serif",
"view": {"stroke": null},
"axis": {"domainColor": "#000", "domainWidth": 2.5, "tickColor": "#000", "tickWidth": 2, "tickSize": -4, "labelPadding": 11, "labelFont": "Liberation Serif", "labelFontSize": 23, "labelColor": "#000", "grid": false, "titleFont": "Liberation Serif", "titleFontSize": 28, "titleFontWeight": "normal", "titleColor": "#000", "format": "d"},
"legend": {"labelFont": "Liberation Serif", "labelFontSize": 25, "labelColor": "#000", "symbolSize": 200, "symbolStrokeWidth": 1, "rowPadding": 3, "labelOffset": 21, "padding": 0}
},
"spacing": 34,
"hconcat": [
{
"width": 310, "height": 288,
"layer": [
{"data": {"name": "pts"}, "transform": [{"filter": "datum.panel === 'a'"}],
 "mark": {"type": "point", "filled": false, "strokeWidth": 1, "opacity": 0.85},
 "encoding": {
  "x": {"field": "w", "type": "quantitative", "scale": {"domain": [0, 4.6], "nice": false, "zero": false}, "axis": {"values": [0, 2, 4], "title": "ωᵣ", "titleFontStyle": "italic", "titlePadding": 10}},
  "y": {"field": "g", "type": "quantitative", "scale": {"domain": [-3, 0.2], "nice": false}, "axis": {"values": [-3, -2, -1, 0], "title": "γ", "titleFontStyle": "italic", "titlePadding": 0}},
  "color": {"field": "op", "type": "nominal", "scale": {"domain": ["Pitch", "Dougherty", "Sugama", "Coulomb"], "range": ["#5cb85c", "#e040e0", "#d9626f", "#3d97d8"]}, "legend": {"title": null, "orient": "none", "legendX": 753, "legendY": 92}},
  "shape": {"field": "op", "type": "nominal", "scale": {"domain": ["Pitch", "Dougherty", "Sugama", "Coulomb"], "range": ["circle", "triangle-right", "square", "M-1,-1L1,1M-1,1L1,-1"]}, "legend": {"title": null, "orient": "none", "legendX": 753, "legendY": 92}},
  "size": {"field": "op", "type": "ordinal", "scale": {"domain": ["Pitch", "Dougherty", "Sugama", "Coulomb"], "range": [225, 260, 144, 64]}, "legend": null}
 }},
{"data": {"values": [{}]}, "mark": {"type": "rule", "color": "#333", "strokeWidth": 1.5}, "encoding": {"y": {"datum": 0}}},
{"data": {"name": "notes"}, "transform": [{"filter": "datum.panel === 'a' && datum.kind === 'note'"}], "mark": {"type": "text", "fontSize": 22, "font": "Liberation Serif", "color": "#000"}, "encoding": {"x": {"field": "w", "type": "quantitative"}, "y": {"field": "g", "type": "quantitative"}, "text": {"field": "t"}}},
{"data": {"name": "notes"}, "transform": [{"filter": "datum.panel === 'a' && datum.kind === 'head'"}], "mark": {"type": "text", "fontSize": 25, "font": "Liberation Serif", "color": "#000"}, "encoding": {"x": {"field": "w", "type": "quantitative"}, "y": {"field": "g", "type": "quantitative"}, "text": {"field": "t"}}},
{"data": {"name": "notes"}, "transform": [{"filter": "datum.panel === 'a' && datum.kind === 'tag'"}], "mark": {"type": "text", "fontSize": 25, "font": "Liberation Serif", "fontStyle": "italic", "color": "#000"}, "encoding": {"x": {"field": "w", "type": "quantitative"}, "y": {"field": "g", "type": "quantitative"}, "text": {"field": "t"}}}
]
},
{
"width": 317, "height": 288,
"layer": [
{"data": {"name": "pts"}, "transform": [{"filter": "datum.panel === 'b'"}],
 "mark": {"type": "point", "filled": false, "strokeWidth": 1, "opacity": 0.85},
 "encoding": {
  "x": {"field": "w", "type": "quantitative", "scale": {"domain": [0, 4.6], "nice": false, "zero": false}, "axis": {"values": [0, 2, 4], "title": "ωᵣ", "titleFontStyle": "italic", "titlePadding": 10}},
  "y": {"field": "g", "type": "quantitative", "scale": {"domain": [-3, 0.2], "nice": false}, "axis": {"values": [-3, -2, -1, 0], "title": "γ", "titleFontStyle": "italic", "titlePadding": 0}},
  "color": {"field": "op", "type": "nominal", "scale": {"domain": ["Pitch", "Dougherty", "Sugama", "Coulomb"], "range": ["#5cb85c", "#e040e0", "#d9626f", "#3d97d8"]}, "legend": {"title": null, "orient": "none", "legendX": 753, "legendY": 92}},
  "shape": {"field": "op", "type": "nominal", "scale": {"domain": ["Pitch", "Dougherty", "Sugama", "Coulomb"], "range": ["circle", "triangle-right", "square", "M-1,-1L1,1M-1,1L1,-1"]}, "legend": {"title": null, "orient": "none", "legendX": 753, "legendY": 92}},
  "size": {"field": "op", "type": "ordinal", "scale": {"domain": ["Pitch", "Dougherty", "Sugama", "Coulomb"], "range": [225, 260, 144, 64]}, "legend": null}
 }},
{"data": {"values": [{}]}, "mark": {"type": "rule", "color": "#333", "strokeWidth": 1.5}, "encoding": {"y": {"datum": 0}}},
{"data": {"name": "notes"}, "transform": [{"filter": "datum.panel === 'b' && datum.kind === 'note'"}], "mark": {"type": "text", "fontSize": 22, "font": "Liberation Serif", "color": "#000"}, "encoding": {"x": {"field": "w", "type": "quantitative"}, "y": {"field": "g", "type": "quantitative"}, "text": {"field": "t"}}},
{"data": {"name": "notes"}, "transform": [{"filter": "datum.panel === 'b' && datum.kind === 'head'"}], "mark": {"type": "text", "fontSize": 25, "font": "Liberation Serif", "color": "#000"}, "encoding": {"x": {"field": "w", "type": "quantitative"}, "y": {"field": "g", "type": "quantitative"}, "text": {"field": "t"}}},
{"data": {"name": "notes"}, "transform": [{"filter": "datum.panel === 'b' && datum.kind === 'tag'"}], "mark": {"type": "text", "fontSize": 25, "font": "Liberation Serif", "fontStyle": "italic", "color": "#000"}, "encoding": {"x": {"field": "w", "type": "quantitative"}, "y": {"field": "g", "type": "quantitative"}, "text": {"field": "t"}}}
]
}
],
"resolve": {"scale": {"color": "shared", "shape": "shared", "size": "shared"}}
}
